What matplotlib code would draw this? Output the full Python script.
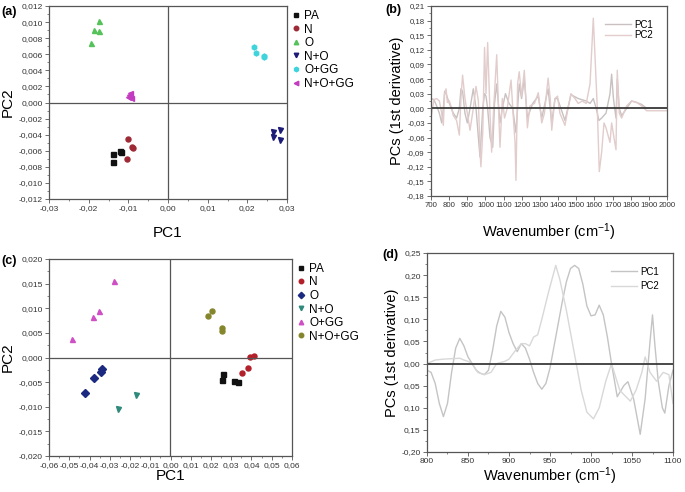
import matplotlib
matplotlib.use('Agg')
import matplotlib.pyplot as plt
from matplotlib.ticker import FuncFormatter, MultipleLocator

plt.rcParams['font.family'] = ['Liberation Sans', 'DejaVu Sans']
plt.rcParams['mathtext.default'] = 'regular'

# ---- panel (a): PCA scores ----
groups = ['PA', 'N', 'O', 'N+O', 'O+GG', 'N+O+GG']

a_pc1 = {
    'PA':     [-0.0139, -0.0139, -0.0120, -0.0118],
    'N':      [-0.0102, -0.0090, -0.0088, -0.0103],
    'O':      [-0.0175, -0.0186, -0.0173, -0.0194],
    'N+O':    [0.0265, 0.0265, 0.0282, 0.0283],
    'O+GG':   [0.0218, 0.0223, 0.0241, 0.0243],
    'N+O+GG': [-0.0099, -0.0095, -0.0102, -0.0093],
}
a_pc2 = {
    'PA':     [-0.0064, -0.0074, -0.0060, -0.0061],
    'N':      [-0.0046, -0.0055, -0.0057, -0.0070],
    'O':      [0.0101, 0.0090, 0.0089, 0.0074],
    'N+O':    [-0.0037, -0.0043, -0.0034, -0.0047],
    'O+GG':   [0.0069, 0.0061, 0.0058, 0.0056],
    'N+O+GG': [0.0009, 0.0012, 0.0007, 0.0006],
}
a_markers = ['s', 'o', '^', 'v', 'h', '<']
a_colors = ['#111111', '#9e2a35', '#55c25a', '#1c1c78', '#3fd3dc', '#c33cc0']

# ---- panel (c): PCA scores ----
c_pc1 = {
    'PA':     [0.0252, 0.0260, 0.0313, 0.0332],
    'N':      [0.0352, 0.0382, 0.0395, 0.0411],
    'O':      [-0.0424, -0.0378, -0.0345, -0.0337],
    'N+O':    [-0.0260, -0.0168],
    'O+GG':   [-0.0485, -0.0385, -0.0352, -0.0280],
    'N+O+GG': [0.0184, 0.0204, 0.0253, 0.0252],
}
c_pc2 = {
    'PA':     [-0.0046, -0.0033, -0.0048, -0.0050],
    'N':      [-0.0031, -0.0021, 0.0001, 0.0003],
    'O':      [-0.0072, -0.0041, -0.0029, -0.0024],
    'N+O':    [-0.0105, -0.0076],
    'O+GG':   [0.0038, 0.0083, 0.0094, 0.0155],
    'N+O+GG': [0.0085, 0.0095, 0.0059, 0.0054],
}
c_markers = ['s', 'o', 'D', 'v', '^', 'o']
c_colors = ['#111111', '#b3202a', '#1b2a80', '#2f8a7c', '#cf4fc4', '#85862c']

# ---- panel (b): loadings, 1st derivative ----
b_pc1_x = [700, 716, 731, 746, 759, 768, 775, 783, 801, 823, 841, 856, 865, 874,
           887, 900, 915, 933, 948, 961, 970, 985, 995, 1003, 1012, 1025, 1040,
           1050, 1062, 1080, 1093, 1110, 1130, 1150, 1168, 1186, 1199, 1214,
           1231, 1260, 1291, 1310, 1345, 1365, 1383, 1397, 1438, 1471, 1511,
           1555, 1576, 1594, 1610, 1625, 1640, 1664, 1686, 1695, 1705, 1719,
           1726, 1737, 1750, 1778, 1805, 1833, 1860, 1888, 2000]
b_pc1_y = [0.020, 0.018, 0.005, -0.010, -0.030, 0.000, 0.035, 0.030, 0.010,
           -0.010, -0.020, 0.000, 0.040, 0.035, -0.010, -0.030, 0.000, 0.040,
           0.000, -0.060, -0.100, 0.000, 0.030, 0.025, 0.000, -0.060, -0.080,
           0.010, 0.050, -0.030, 0.000, 0.030, 0.010, 0.000, -0.050, 0.050,
           0.020, 0.060, -0.020, 0.010, 0.025, -0.020, 0.040, -0.030, 0.020,
           0.020, -0.025, 0.028, 0.020, 0.015, 0.010, 0.020, 0.000, -0.025,
           -0.020, -0.010, 0.030, 0.070, 0.020, -0.020, 0.060, 0.000, -0.015,
           0.000, 0.015, 0.012, 0.008, 0.000, 0.000]

b_pc2_x = [700, 716, 731, 746, 759, 768, 775, 783, 790, 801, 814, 823, 841, 856,
           865, 874, 887, 900, 915, 933, 948, 961, 970, 975, 985, 995, 1003,
           1012, 1025, 1034, 1045, 1062, 1072, 1080, 1093, 1105, 1120, 1141,
           1152, 1163, 1168, 1177, 1186, 1199, 1214, 1231, 1245, 1270, 1291,
           1310, 1325, 1345, 1357, 1365, 1383, 1397, 1410, 1438, 1450, 1471,
           1493, 1511, 1533, 1555, 1576, 1594, 1609, 1616, 1627, 1640, 1653,
           1664, 1686, 1695, 1710, 1719, 1726, 1737, 1750, 1778, 1805, 1833,
           1860, 1888, 1950, 2000]
b_pc2_y = [-0.020, 0.018, 0.020, 0.015, -0.010, -0.035, 0.030, 0.040, 0.012,
           0.015, 0.000, -0.015, -0.025, -0.055, 0.020, 0.068, 0.020, -0.010,
           -0.045, 0.000, 0.045, 0.015, -0.090, -0.120, -0.050, 0.125, 0.030,
           0.135, -0.010, -0.090, 0.000, 0.110, 0.000, -0.080, 0.020, -0.020,
           0.000, 0.058, -0.010, -0.070, -0.148, 0.050, 0.075, 0.025, 0.078,
           -0.040, 0.005, 0.010, 0.032, -0.030, -0.010, 0.062, 0.020, -0.045,
           0.020, 0.025, -0.010, -0.035, -0.010, 0.030, 0.020, 0.010, 0.015,
           0.010, 0.050, 0.185, 0.060, 0.000, -0.130, -0.090, -0.030, -0.040,
           -0.070, -0.030, -0.065, -0.085, 0.078, -0.010, -0.020, 0.005, 0.015,
           0.012, 0.005, -0.005, -0.005, -0.005]

# ---- panel (d): loadings, 1st derivative ----
d_pc1_x = [800, 805, 810, 815, 820, 825, 830, 835, 840, 845, 850, 855, 860, 865,
           870, 875, 880, 885, 890, 895, 900, 905, 910, 915, 920, 925, 930, 935,
           940, 945, 950, 955, 960, 965, 970, 975, 980, 985, 990, 995, 1000,
           1005, 1010, 1015, 1020, 1025, 1032, 1040, 1045, 1052, 1060, 1066,
           1072, 1075, 1078, 1082, 1087, 1090, 1095, 1100]
d_pc1_y = [-0.015, -0.020, -0.045, -0.090, -0.120, -0.090, -0.020, 0.035,
           0.057, 0.040, 0.015, 0.000, -0.015, -0.022, -0.025, -0.015, 0.030,
           0.085, 0.118, 0.105, 0.070, 0.045, 0.027, 0.045, 0.035, 0.010,
           -0.020, -0.045, -0.058, -0.045, -0.010, 0.040, 0.090, 0.140, 0.185,
           0.215, 0.222, 0.215, 0.180, 0.130, 0.108, 0.110, 0.132, 0.110, 0.060,
           0.000, -0.075, -0.050, -0.041, -0.080, -0.160, -0.080, 0.050, 0.110,
           0.040, -0.040, -0.100, -0.112, -0.050, -0.015]

d_pc2_x = [800, 810, 820, 830, 840, 845, 850, 855, 862, 870, 878, 885, 895, 900,
           908, 915, 920, 925, 930, 935, 940, 948, 957, 962, 970, 977, 982, 988,
           995, 1003, 1010, 1018, 1025, 1030, 1035, 1040, 1048, 1055, 1062,
           1066, 1072, 1080, 1088, 1095, 1100]
d_pc2_y = [0.000, 0.008, 0.010, 0.011, 0.012, 0.008, 0.005, 0.000, -0.020,
           -0.025, -0.020, 0.000, 0.005, 0.010, 0.030, 0.045, 0.045, 0.040,
           0.060, 0.065, 0.100, 0.160, 0.222, 0.190, 0.120, 0.050, 0.000,
           -0.060, -0.110, -0.125, -0.100, -0.040, 0.000, -0.030, -0.060,
           -0.070, -0.085, -0.060, -0.020, 0.015, -0.020, -0.040, -0.020,
           -0.025, -0.090]

W, H = 685, 492
SPINE = '#555555'


def comma(fmt):
    def f(v, pos):
        if abs(v) < 1e-12:
            v = 0.0
        return (fmt % v).replace('.', ',')
    return FuncFormatter(f)


def d_label(v, pos):
    # the reference drops the minus on the inner negative labels
    if abs(v) < 1e-12:
        v = 0.0
    if -0.19 < v < 0:
        v = -v
    return ('%.2f' % v).replace('.', ',')


def box(left, top, right, bottom):
    return fig.add_axes([left / W, 1 - bottom / H, (right - left) / W,
                         (bottom - top) / H])


def style(ax, tick_size=6):
    for s in ax.spines.values():
        s.set_color(SPINE)
        s.set_linewidth(0.9)
    ax.tick_params(which='major', direction='out', length=3, width=0.6,
                   color=SPINE, labelsize=tick_size, pad=1.5,
                   labelcolor='#333333')
    ax.tick_params(which='minor', direction='out', length=1.6, width=0.5,
                   color=SPINE)


def score_panel(ax, xs, ys, markers, colors, xlim, ylim, xstep, ystep,
                xfmt, yfmt, xpad):
    for g, m, c in zip(groups, markers, colors):
        ax.plot(xs[g], ys[g], linestyle='none', marker=m, ms=3.6, color=c,
                mec=c, label=g)
    ax.axhline(0, color='#555555', lw=0.9)
    ax.axvline(0, color='#555555', lw=0.9)
    ax.set_xlim(*xlim)
    ax.set_ylim(*ylim)
    ax.xaxis.set_major_locator(MultipleLocator(xstep))
    ax.xaxis.set_minor_locator(MultipleLocator(xstep / 2))
    ax.yaxis.set_major_locator(MultipleLocator(ystep))
    ax.yaxis.set_minor_locator(MultipleLocator(ystep / 2))
    ax.xaxis.set_major_formatter(comma(xfmt))
    ax.yaxis.set_major_formatter(comma(yfmt))
    style(ax)
    ax.set_xlabel('PC1', fontsize=11, labelpad=xpad)
    ax.set_ylabel('PC2', fontsize=11, labelpad=3)
    ax.legend(loc='upper left', bbox_to_anchor=(1.0, 1.01),
              frameon=False, fontsize=8.5, handlelength=0.6,
              handletextpad=0.35, labelspacing=0.13, borderaxespad=0.3,
              markerscale=0.9, borderpad=0.2)


def loading_panel(ax, x1, y1, x2, y2, xlim, ylim, xstep, ystep, yfmt,
                  colors, xpad, spacing, xminor=None, tick_size=6):
    ax.plot(x1, y1, color=colors[0], lw=1.0, label='PC1')
    ax.plot(x2, y2, color=colors[1], lw=1.0, label='PC2')
    ax.axhline(0, color='#3a3a3a', lw=1.3)
    ax.set_xlim(*xlim)
    ax.set_ylim(*ylim)
    ax.xaxis.set_major_locator(MultipleLocator(xstep))
    if xminor:
        ax.xaxis.set_minor_locator(MultipleLocator(xminor))
    ax.yaxis.set_major_locator(MultipleLocator(ystep))
    ax.yaxis.set_minor_locator(MultipleLocator(ystep / 2))
    ax.yaxis.set_major_formatter(yfmt)
    ax.xaxis.set_major_formatter(FuncFormatter(lambda v, p: '%d' % v))
    style(ax, tick_size)
    ax.set_xlabel('Wavenumber (cm$^{-1}$)', fontsize=10.5, labelpad=xpad)
    ax.set_ylabel('PCs (1st derivative)', fontsize=10.5, labelpad=2)
    ax.legend(loc='upper right', frameon=False, fontsize=7,
              handlelength=2.6, handletextpad=0.4, labelspacing=spacing,
              borderaxespad=1.0)


fig = plt.figure(figsize=(W / 100, H / 100), dpi=100)

ax_a = box(49, 6, 287, 199)
score_panel(ax_a, a_pc1, a_pc2, a_markers, a_colors, (-0.03, 0.03),
            (-0.012, 0.012), 0.01, 0.002, '%.2f', '%.3f', 10)

ax_b = box(431, 6, 667, 196)
loading_panel(ax_b, b_pc1_x, b_pc1_y, b_pc2_x, b_pc2_y, (700, 2000),
              (-0.18, 0.21), 100, 0.03, comma('%.2f'),
              ['#c9c1c1', '#e2cccc'], 9, 0.05, tick_size=5.6)

ax_c = box(49, 259, 292, 456)
score_panel(ax_c, c_pc1, c_pc2, c_markers, c_colors, (-0.06, 0.06),
            (-0.020, 0.020), 0.01, 0.005, '%.2f', '%.3f', 0)

ax_d = box(427, 253, 673, 452)
loading_panel(ax_d, d_pc1_x, d_pc1_y, d_pc2_x, d_pc2_y, (800, 1100),
              (-0.20, 0.25), 50, 0.05, FuncFormatter(d_label),
              ['#c4c4c4', '#d8d8d8'], 0, 0.5, xminor=25)

for label, px, py in [('(a)', 1, 6), ('(b)', 385, 4), ('(c)', 1, 255),
                      ('(d)', 382, 249)]:
    fig.text(px / W, 1 - py / H, label, fontsize=9, fontweight='bold',
             ha='left', va='top')

fig.savefig('out.png', dpi=100)
